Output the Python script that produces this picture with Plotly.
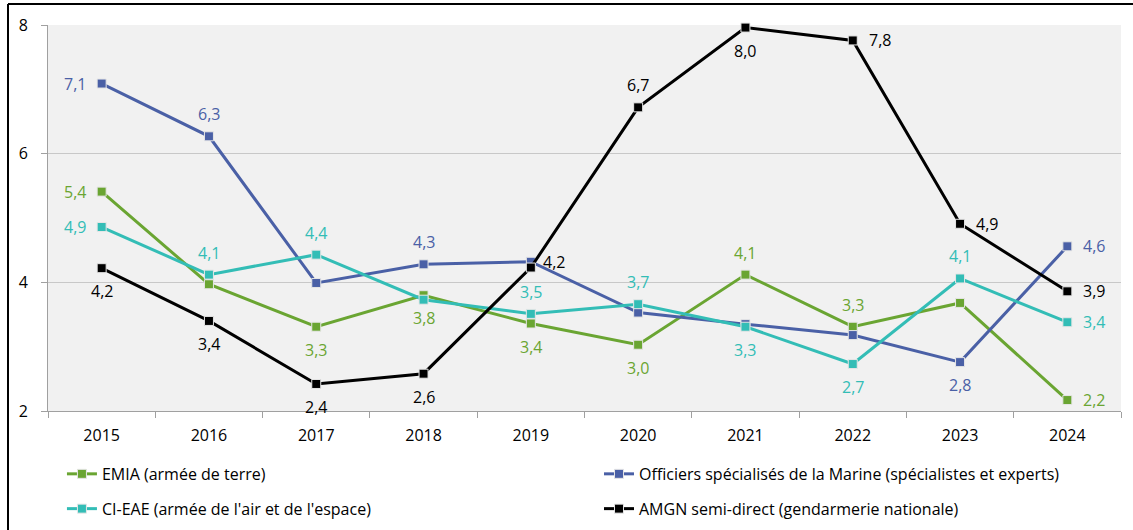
import plotly.graph_objects as go

years = ["2015", "2016", "2017", "2018", "2019", "2020", "2021", "2022", "2023", "2024"]

emia = [5.41, 3.97, 3.31, 3.80, 3.36, 3.03, 4.12, 3.31, 3.68, 2.17]
marine = [7.09, 6.27, 3.99, 4.28, 4.32, 3.53, 3.35, 3.18, 2.76, 4.56]
cieae = [4.86, 4.12, 4.43, 3.73, 3.51, 3.66, 3.31, 2.73, 4.06, 3.38]
amgn = [4.22, 3.40, 2.42, 2.58, 4.23, 6.72, 7.96, 7.76, 4.91, 3.86]

names = [
    "EMIA (armée de terre)",
    "Officiers spécialisés de la Marine (spécialistes et experts)",
    "CI-EAE (armée de l'air et de l'espace)",
    "AMGN semi-direct (gendarmerie nationale)",
]

# label placement per point (None = no label shown)
emia_pos = ["left", None, "below", "below", "below", "below", "above", "above", None, "right"]
marine_pos = ["left", "above", None, "above", None, None, None, None, "below", "right"]
cieae_pos = ["left", "above", "above", None, "above", "above", "below", "below", "above", "right"]
amgn_pos = ["below", "below", "below", "below", "rightup", "above", "below", "right", "right", "right"]

colors = ["#6aa532", "#4a60a6", "#33bdb6", "#000000"]
series = [emia, marine, cieae, amgn]
positions = [emia_pos, marine_pos, cieae_pos, amgn_pos]
legends = ["legend", "legend2", "legend", "legend2"]

SHIFTS = {"above": (0, 22), "below": (0, -23), "left": (-27, 0), "right": (27, 0),
          "rightup": (23, 6)}

FONT = "Open Sans"
FS = 16

fig = go.Figure()
for name, vals, pos, col, lg in zip(names, series, positions, colors, legends):
    fig.add_trace(go.Scatter(
        x=years, y=vals, name=name, mode="lines+markers",
        line=dict(color=col, width=3),
        marker=dict(symbol="square", size=9, color=col, line=dict(color="#e6e6e6", width=1)),
        cliponaxis=False, legend=lg, legendgroup=name,
    ))
    for i, (v, p) in enumerate(zip(vals, pos)):
        if not p:
            continue
        dx, dy = SHIFTS[p]
        fig.add_annotation(x=i, y=v, text=f"{v:.1f}".replace(".", ","), showarrow=False,
                           xshift=dx, yshift=dy,
                           font=dict(family=FONT, size=FS, color=col))

fig.update_layout(
    width=1133, height=530,
    margin=dict(l=48, r=12, t=25, b=119, autoexpand=False),
    paper_bgcolor="white", plot_bgcolor="#f1f1f1",
    font=dict(family=FONT, size=FS, color="#000000"),
    showlegend=True,
    legend=dict(x=0.013, y=-0.119, xanchor="left", yanchor="top", orientation="v",
                tracegroupgap=11, font=dict(family=FONT, size=FS, color="#000000"),
                bgcolor="rgba(0,0,0,0)"),
    legend2=dict(x=0.5135, y=-0.119, xanchor="left", yanchor="top", orientation="v",
                 tracegroupgap=11, font=dict(family=FONT, size=FS, color="#000000"),
                 bgcolor="rgba(0,0,0,0)"),
    xaxis=dict(type="category", range=[-0.5, len(years) - 0.5], tickson="boundaries",
               ticks="outside", ticklen=6, ticklabelstandoff=10,
               tickcolor="#a0a0a0", showline=True, linecolor="#a0a0a0", linewidth=1,
               showgrid=False, tickfont=dict(family=FONT, size=FS, color="#000000")),
    yaxis=dict(range=[2, 8], tickvals=[2, 4, 6, 8], ticks="outside", ticklen=6,
               ticklabelstandoff=10,
               tickcolor="#a0a0a0", showline=True, linecolor="#a0a0a0", linewidth=1,
               showgrid=True, gridcolor="#c8c8c8", gridwidth=1, zeroline=False,
               tickfont=dict(family=FONT, size=FS, color="#000000")),
)

# outer frame (top and left edges)
fig.add_shape(type="line", xref="paper", yref="paper",
              x0=(8 - 48) / 1073, x1=(1140 - 48) / 1073,
              y0=(411 - 4) / 386, y1=(411 - 4) / 386,
              line=dict(color="#000000", width=2))
fig.add_shape(type="line", xref="paper", yref="paper",
              x0=(8 - 48) / 1073, x1=(8 - 48) / 1073,
              y0=(411 - 4) / 386, y1=(411 - 540) / 386,
              line=dict(color="#000000", width=2))

fig.write_html("out.html", config={"displayModeBar": False},
               post_script="document.body.style.margin='0px';")
